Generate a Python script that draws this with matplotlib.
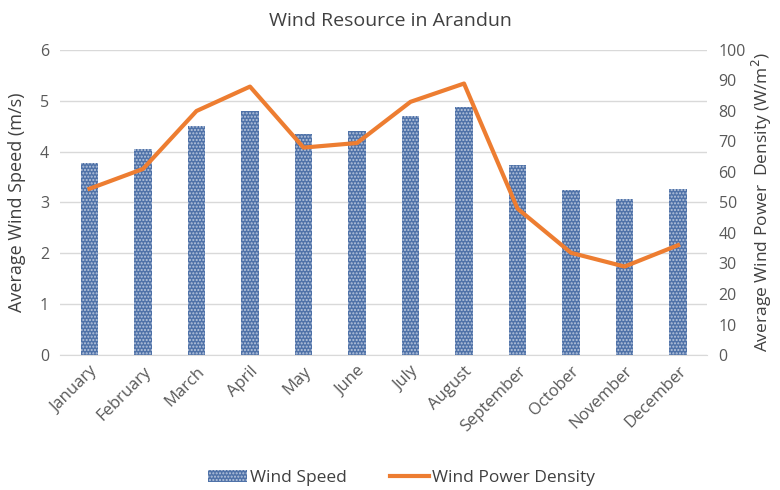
import numpy as np
import matplotlib.pyplot as plt
from matplotlib.patches import Patch
from matplotlib.lines import Line2D

plt.rcParams['font.family'] = ['Open Sans', 'DejaVu Sans']
plt.rcParams['hatch.linewidth'] = 1.0

months = ['January', 'February', 'March', 'April', 'May', 'June', 'July',
          'August', 'September', 'October', 'November', 'December']
wind_speed = [3.78, 4.05, 4.5, 4.8, 4.35, 4.4, 4.7, 4.87, 3.73, 3.25, 3.07, 3.27]
power_density = [54.5, 61, 80, 88, 68, 69.5, 83, 89, 48, 33.5, 29, 36]

bar_color = '#4f72a8'
line_color = '#ed7d31'
text_color = '#595959'

fig = plt.figure(figsize=(7.8, 4.9), dpi=100)
ax = fig.add_axes([0.077, 0.2755, 0.83, 0.6225])
x = np.arange(len(months))

ax.bar(x, wind_speed, width=0.33, color=bar_color, edgecolor='#b8c6dd',
       linewidth=0, hatch='.....', zorder=2)
ax.set_ylim(0, 6)
ax.set_yticks(range(0, 7))
ax.set_xlim(-0.55, 11.55)
ax.set_xticks(x)
ax.set_xticklabels(months, rotation=45, ha='right', rotation_mode='anchor')
ax.grid(axis='y', color='#d9d9d9', linewidth=1, zorder=0)
ax.set_ylabel('Average Wind Speed (m/s)', fontsize=13, color='#404040', labelpad=10)

ax2 = ax.twinx()
ax2.plot(x, power_density, color=line_color, linewidth=3, zorder=3)
ax2.set_ylim(0, 100)
ax2.set_yticks(range(0, 101, 10))
ax2.set_ylabel('Average Wind Power  Density (W/m$^2$)', fontsize=12.5, color='#404040',
               labelpad=3)

for a in (ax, ax2):
    for s in a.spines.values():
        s.set_visible(False)
    a.tick_params(length=0, labelsize=11.5, colors=text_color, pad=8)
ax.spines['bottom'].set_visible(True)
ax.spines['bottom'].set_color('#d9d9d9')
ax.tick_params(axis='x', pad=6, labelsize=12)

fig.suptitle('Wind Resource in Arandun', y=0.975, fontsize=14, color='#404040')

handles = [Patch(facecolor=bar_color, edgecolor='#b8c6dd', hatch='.....', linewidth=0),
           Line2D([0], [0], color=line_color, linewidth=3)]
fig.legend(handles, ['Wind Speed', 'Wind Power Density'], loc='center',
           bbox_to_anchor=(0.515, 0.025), ncol=2, frameon=False, fontsize=12.5,
           labelcolor='#404040', handlelength=2.2, handletextpad=0.2, columnspacing=2.5)

fig.savefig('out.png', dpi=100)
